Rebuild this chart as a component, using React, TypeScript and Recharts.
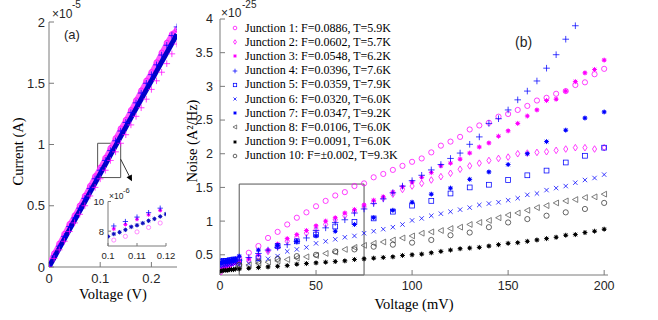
import React from 'react';
import { ScatterChart, Scatter, XAxis, YAxis, ReferenceArea, ReferenceLine, Legend } from 'recharts';

// ---- panel (a): current vs voltage ----
const ivVolts = [0, 0.01, 0.02, 0.03, 0.04, 0.05, 0.06, 0.07, 0.08, 0.09, 0.1, 0.11, 0.12, 0.13, 0.14, 0.15, 0.16, 0.17, 0.18, 0.19, 0.2, 0.21, 0.22, 0.23, 0.24, 0.25];
const ivCore = [0, 0.076, 0.152, 0.229, 0.305, 0.381, 0.457, 0.533, 0.609, 0.685, 0.761, 0.837, 0.913, 0.989, 1.065, 1.141, 1.217, 1.293, 1.369, 1.445, 1.521, 1.597, 1.673, 1.749, 1.825, 1.901];
const ivHigh = [0.03, 0.11, 0.19, 0.27, 0.35, 0.42, 0.5, 0.58, 0.66, 0.74, 0.81, 0.89, 0.97, 1.05, 1.13, 1.2, 1.28, 1.36, 1.44, 1.52, 1.59, 1.67, 1.75, 1.83, 1.9, 1.94];
const ivPlus = [0.01, 0.09, 0.17, 0.25, 0.33, 0.4, 0.48, 0.56, 0.64, 0.72, 0.79, 0.87, 0.95, 1.03, 1.11, 1.18, 1.26, 1.34, 1.42, 1.5, 1.57, 1.65, 1.73, 1.81, 1.89, 1.96];
const ivLow = [0, 0.07, 0.14, 0.21, 0.29, 0.36, 0.43, 0.5, 0.58, 0.65, 0.72, 0.79, 0.87, 0.94, 1.01, 1.08, 1.16, 1.23, 1.3, 1.37, 1.45, 1.52, 1.59, 1.66, 1.74, 1.82];
const ivTicksX = [0, 0.1, 0.2];
const ivTicksY = [0, 0.5, 1, 1.5, 2];

// inset of (a), current in 1e-6 A
const insetVolts = [0.1, 0.102, 0.104, 0.106, 0.108, 0.11, 0.112, 0.114, 0.116, 0.118, 0.12];
const insetCore = [7.64, 7.81, 7.93, 8.09, 8.29, 8.4, 8.54, 8.7, 8.83, 8.99, 9.15];
const insetSparseVolts = [0.102, 0.106, 0.11, 0.114, 0.118];
const insetPlus = [8.35, 8.65, 8.95, 9.25, 9.55];
const insetStar = [8.15, 8.45, 8.8, 9.1, 9.4];
const insetPink = [7.4, 7.65, 7.95, 8.25, 8.55];
const insetTicksX = [0.1, 0.11, 0.12];
const insetTicksY = [8, 10];

// ---- panel (b): noise vs voltage (1e-25 A^2/Hz) ----
const voltsLow = [0, 1, 2, 3, 4, 5, 6, 7, 8];
const volts5 = [10, 15, 20, 25, 30, 35, 40, 45, 50, 55, 60, 65, 70, 75, 80, 85, 90, 95, 100, 105, 110, 115, 120, 125, 130, 135, 140, 145, 150, 155, 160, 165, 170, 175, 180, 185, 190, 195, 200];
const volts10 = [10, 20, 30, 40, 50, 60, 70, 80, 90, 100, 110, 120, 130, 140, 150, 160, 170, 180, 190, 200];

const j1Low = [0.24, 0.28, 0.3, 0.32, 0.33, 0.35, 0.37, 0.39, 0.41];
const j1 = [0.45, 0.53, 0.63, 0.75, 0.84, 0.95, 1.05, 1.13, 1.22, 1.3, 1.38, 1.43, 1.52, 1.56, 1.65, 1.7, 1.76, 1.82, 1.88, 1.93, 2.02, 2.12, 2.18, 2.25, 2.36, 2.42, 2.46, 2.55, 2.59, 2.65, 2.71, 2.79, 2.83, 2.89, 2.93, 3.02, 3.06, 3.18, 3.26];
const j2 = [0.38, 0.42, 0.47, 0.55, 0.62, 0.7, 0.76, 0.82, 0.88, 0.95, 1.02, 1.08, 1.15, 1.21, 1.28, 1.34, 1.4, 1.47, 1.52, 1.56, 1.61, 1.66, 1.71, 1.77, 1.82, 1.86, 1.9, 1.93, 1.95, 2.0, 2.01, 2.02, 2.03, 2.05, 2.07, 2.09, 2.09, 2.07, 2.09];
const j3Low = [0.27, 0.29, 0.31, 0.33, 0.34, 0.35, 0.36, 0.37, 0.38];
const j3 = [0.4, 0.44, 0.5, 0.57, 0.66, 0.74, 0.8, 0.86, 0.93, 1.0, 1.05, 1.12, 1.17, 1.24, 1.31, 1.36, 1.43, 1.51, 1.58, 1.65, 1.72, 1.82, 1.86, 1.92, 2.01, 2.1, 2.16, 2.26, 2.34, 2.45, 2.56, 2.65, 2.79, 2.81, 2.93, 3.07, 3.2, 3.25, 3.39];
const j4Low = [0.36, 0.37, 0.38, 0.38, 0.39, 0.4, 0.4, 0.41, 0.41];
const j4 = [0.42, 0.46, 0.52, 0.57, 0.61, 0.65, 0.7, 0.75, 0.86, 0.9, 0.98, 1.02, 1.12, 1.18, 1.26, 1.33, 1.42, 1.52, 1.6, 1.68, 1.76, 1.84, 1.93, 2.01, 2.14, 2.25, 2.45, 2.52, 2.65, 2.8, 2.93, 3.08, 3.27, 3.47, 3.7, 3.9];
const j5Low = [0.4, 0.4, 0.41, 0.41, 0.41, 0.42, 0.42, 0.43, 0.43];
const j5 = [0.4, 0.45, 0.63, 0.7, 0.8, 0.92, 0.99, 1.04, 1.14, 1.23, 1.3, 1.41, 1.5, 1.54, 1.61, 1.68, 1.75, 1.87, 1.97, 2.09];
const j6Low = [0.33, 0.34, 0.34, 0.35, 0.35, 0.36, 0.36, 0.37, 0.37];
const j6 = [0.35, 0.37, 0.42, 0.44, 0.48, 0.55, 0.58, 0.61, 0.67, 0.7, 0.73, 0.76, 0.78, 0.82, 0.85, 0.88, 0.91, 0.95, 1.01, 1.04, 1.08, 1.11, 1.14, 1.17, 1.2, 1.24, 1.26, 1.28, 1.31, 1.34, 1.39, 1.41, 1.46, 1.49, 1.52, 1.57, 1.61, 1.64, 1.69];
const j7Low = [0.38, 0.39, 0.4, 0.4, 0.41, 0.41, 0.42, 0.43, 0.44];
const j7 = [0.48, 0.57, 0.64, 0.7, 0.78, 0.85, 0.95, 1.05, 1.16, 1.28, 1.4, 1.49, 1.62, 1.73, 1.84, 2.0, 2.18, 2.35, 2.53, 2.62];
const j8 = [0.33, 0.35, 0.37, 0.39, 0.41, 0.43, 0.45, 0.47, 0.49, 0.52, 0.54, 0.58, 0.61, 0.64, 0.67, 0.69, 0.72, 0.75, 0.78, 0.82, 0.84, 0.86, 0.89, 0.91, 0.95, 0.98, 1.01, 1.05, 1.09, 1.12, 1.16, 1.2, 1.23, 1.27, 1.3, 1.32, 1.35, 1.36, 1.4];
const j9Low = [0.26, 0.26, 0.27, 0.27, 0.27, 0.28, 0.28, 0.28, 0.29];
const j9 = [0.29, 0.3, 0.31, 0.32, 0.33, 0.34, 0.36, 0.37, 0.38, 0.39, 0.4, 0.41, 0.43, 0.44, 0.45, 0.46, 0.47, 0.49, 0.5, 0.51, 0.53, 0.55, 0.57, 0.59, 0.6, 0.61, 0.63, 0.65, 0.67, 0.68, 0.7, 0.72, 0.74, 0.76, 0.79, 0.8, 0.83, 0.85, 0.88];
const j10 = [0.35, 0.4, 0.44, 0.48, 0.5, 0.55, 0.58, 0.62, 0.65, 0.68, 0.72, 0.79, 0.83, 0.91, 0.98, 1.03, 1.08, 1.13, 1.18, 1.27];

const noiseTicksX = [0, 50, 100, 150, 200];
const noiseTicksY = [0.5, 1, 1.5, 2, 2.5, 3, 3.5, 4];

const MAG = '#ff00ff';
const BLUE = '#0000ff';

type Kind = 'o' | 'd' | '*' | '+' | 's' | 'x' | '<';

const toPoints = (volts: number[], values: number[]) => values.map((n, i) => ({ v: volts[i], n }));

const junctions: { name: string; color: string; marker: Kind; data: { v: number; n: number }[] }[] = [
  { name: 'Junction 1: F=0.0886, T=5.9K', color: MAG, marker: 'o', data: [...toPoints(voltsLow, j1Low), ...toPoints(volts5, j1)] },
  { name: 'Junction 2: F=0.0602, T=5.7K', color: MAG, marker: 'd', data: toPoints(volts5, j2) },
  { name: 'Junction 3: F=0.0548, T=6.2K', color: MAG, marker: '*', data: [...toPoints(voltsLow, j3Low), ...toPoints(volts5, j3)] },
  { name: 'Junction 4: F=0.0396, T=7.6K', color: BLUE, marker: '+', data: [...toPoints(voltsLow, j4Low), ...toPoints(volts5, j4)] },
  { name: 'Junction 5: F=0.0359, T=7.9K', color: BLUE, marker: 's', data: [...toPoints(voltsLow, j5Low), ...toPoints(volts10, j5)] },
  { name: 'Junction 6: F=0.0320, T=6.0K', color: BLUE, marker: 'x', data: [...toPoints(voltsLow, j6Low), ...toPoints(volts5, j6)] },
  { name: 'Junction 7: F=0.0347, T=9.2K', color: BLUE, marker: '*', data: [...toPoints(voltsLow, j7Low), ...toPoints(volts10, j7)] },
  { name: 'Junction 8: F=0.0106, T=6.0K', color: '#555555', marker: '<', data: toPoints(volts5, j8) },
  { name: 'Junction 9: F=0.0091, T=6.0K', color: '#000000', marker: '*', data: [...toPoints(voltsLow, j9Low), ...toPoints(volts5, j9)] },
  { name: 'Junction 10: F=\u00b10.002, T=9.3K', color: '#333333', marker: 'o', data: toPoints(volts10, j10) },
];

const Marker = ({ kind, cx, cy, color, size = 1 }: { kind: Kind; cx: number; cy: number; color: string; size?: number }) => {
  const s = size;
  const sw = 0.75;
  switch (kind) {
    case 'o':
      return <circle cx={cx} cy={cy} r={2.6 * s} fill="none" stroke={color} strokeWidth={sw} />;
    case 'd':
      return <path d={`M${cx},${cy - 3.3 * s}L${cx + 2.1 * s},${cy}L${cx},${cy + 3.3 * s}L${cx - 2.1 * s},${cy}Z`} fill="none" stroke={color} strokeWidth={sw} />;
    case '*':
      return (
        <g stroke={color} strokeWidth={0.9}>
          <line x1={cx - 2.5 * s} y1={cy} x2={cx + 2.5 * s} y2={cy} />
          <line x1={cx} y1={cy - 2.5 * s} x2={cx} y2={cy + 2.5 * s} />
          <line x1={cx - 1.8 * s} y1={cy - 1.8 * s} x2={cx + 1.8 * s} y2={cy + 1.8 * s} />
          <line x1={cx - 1.8 * s} y1={cy + 1.8 * s} x2={cx + 1.8 * s} y2={cy - 1.8 * s} />
          <circle cx={cx} cy={cy} r={1.3 * s} fill={color} />
        </g>
      );
    case '+':
      return (
        <g stroke={color} strokeWidth={sw}>
          <line x1={cx - 3.3 * s} y1={cy} x2={cx + 3.3 * s} y2={cy} />
          <line x1={cx} y1={cy - 3.3 * s} x2={cx} y2={cy + 3.3 * s} />
        </g>
      );
    case 's':
      return <rect x={cx - 2.4 * s} y={cy - 2.4 * s} width={4.8 * s} height={4.8 * s} fill="none" stroke={color} strokeWidth={sw} />;
    case 'x':
      return (
        <g stroke={color} strokeWidth={sw}>
          <line x1={cx - 2.2 * s} y1={cy - 2.2 * s} x2={cx + 2.2 * s} y2={cy + 2.2 * s} />
          <line x1={cx - 2.2 * s} y1={cy + 2.2 * s} x2={cx + 2.2 * s} y2={cy - 2.2 * s} />
        </g>
      );
    case '<':
      return <path d={`M${cx - 2.9 * s},${cy}L${cx + 2.4 * s},${cy - 2.9 * s}L${cx + 2.4 * s},${cy + 2.9 * s}Z`} fill="none" stroke={color} strokeWidth={sw} />;
  }
  return <g />;
};

const shapeOf = (kind: Kind, color: string, size = 1) => (p: any) => <Marker kind={kind} cx={p.cx} cy={p.cy} color={color} size={size} />;

const AXIS = '#7a7a7a';
const SANS = 'Liberation Sans, Arial, sans-serif';
const SERIF = 'Liberation Serif, Times New Roman, serif';

const NoiseLegend = () => (
  <div style={{ fontFamily: SERIF, fontSize: 12, color: '#000' }}>
    {junctions.map(j => (
      <div key={j.name} style={{ height: 14.2, display: 'flex', alignItems: 'center', whiteSpace: 'nowrap' }}>
        <svg width={10} height={10} style={{ display: 'block' }}>
          <Marker kind={j.marker} cx={5} cy={5} color={j.color} size={0.7} />
        </svg>
        <span style={{ marginLeft: 5 }}>{j.name}</span>
      </div>
    ))}
  </div>
);

const ZoomArrow = (p: any) => {
  const { x1, y1, x2, y2 } = p;
  const a = Math.atan2(y2 - y1, x2 - x1);
  const h = 6;
  const w = 3;
  const bx = x2 - h * Math.cos(a);
  const by = y2 - h * Math.sin(a);
  const pts = `${x2},${y2} ${bx - w * Math.sin(a)},${by + w * Math.cos(a)} ${bx + w * Math.sin(a)},${by - w * Math.cos(a)}`;
  return (
    <g>
      <line x1={x1} y1={y1} x2={bx} y2={by} stroke="#000" strokeWidth={0.8} />
      <polygon points={pts} fill="#000" />
    </g>
  );
};

const abs = (left: number, top: number, size: number, extra: React.CSSProperties = {}): React.CSSProperties => ({
  position: 'absolute', left, top, fontSize: size, fontFamily: SANS, color: '#262626', lineHeight: 1, whiteSpace: 'nowrap', ...extra,
});

const App = () => {
  const tickA = { fontSize: 13, fill: '#262626', fontFamily: SANS };
  const tickB = { fontSize: 12.5, fill: '#262626', fontFamily: SANS };
  const tickI = { fontSize: 9.5, fill: '#262626', fontFamily: SANS };
  const axisLabel = { fontSize: 14.5, fill: '#000', fontFamily: SERIF };

  return (
    <div style={{ position: 'fixed', left: 0, top: 0, width: 658, height: 320, background: '#fff', overflow: 'hidden' }}>
      {/* (a) current vs voltage */}
      <div style={{ position: 'absolute', left: 0, top: 0 }}>
        <ScatterChart width={200} height={320} margin={{ top: 22, right: 23, bottom: 0, left: 0 }}>
          <XAxis type="number" dataKey="v" domain={[0, 0.25]} ticks={ivTicksX} allowDataOverflow height={53}
            tick={tickA} tickSize={-5} tickMargin={11.5} stroke={AXIS}
            label={{ value: 'Voltage (V)', position: 'center', dy: 0, ...axisLabel }} />
          <XAxis xAxisId="top" orientation="top" type="number" domain={[0, 0.25]} ticks={ivTicksX} allowDataOverflow height={0}
            tick={false} tickSize={-5} stroke={AXIS} />
          <YAxis type="number" dataKey="n" domain={[0, 2]} ticks={ivTicksY} allowDataOverflow width={49}
            tick={tickA} tickSize={-5} tickMargin={9} stroke={AXIS}
            label={{ value: 'Current (A)', angle: -90, position: 'center', dx: -7, dy: 7, ...axisLabel }} />
          <YAxis yAxisId="right" orientation="right" type="number" domain={[0, 2]} ticks={ivTicksY} allowDataOverflow width={0}
            tick={false} tickSize={-5} stroke={AXIS} />
          <Scatter data={toPoints(ivVolts, ivHigh)} line={{ stroke: '#ff55ff', strokeWidth: 4.5 }} shape={shapeOf('o', MAG)} isAnimationActive={false} />
          <Scatter data={toPoints(ivVolts, ivCore)} line={{ stroke: '#0000c8', strokeWidth: 5 }} shape={() => <g />} isAnimationActive={false} />
          <Scatter data={toPoints(ivVolts, ivPlus)} shape={shapeOf('+', BLUE)} isAnimationActive={false} />
          <Scatter data={toPoints(ivVolts, ivLow)} shape={shapeOf('+', MAG)} isAnimationActive={false} />
          <ReferenceArea x1={0.095} x2={0.14} y1={0.73} y2={1.01} fill="none" stroke="#555" strokeWidth={1} />
          <ReferenceLine segment={[{ x: 0.14, y: 0.88 }, { x: 0.162, y: 0.7 }]} shape={ZoomArrow} />
        </ScatterChart>
      </div>
      <span style={abs(52, 7.5, 12)}>{'\u00d710'}</span>
      <span style={abs(72, 0, 10)}>-5</span>
      <span style={abs(64, 28, 13)}>(a)</span>

      {/* inset of (a) */}
      <div style={{ position: 'absolute', left: 76, top: 186 }}>
        <ScatterChart width={100} height={80} margin={{ top: 15.5, right: 10, bottom: 0, left: 0 }}>
          <XAxis type="number" dataKey="v" domain={[0.1, 0.12]} ticks={insetTicksX} allowDataOverflow height={20}
            tick={tickI} tickSize={-3} tickMargin={9.5} stroke={AXIS} />
          <XAxis xAxisId="top" orientation="top" type="number" domain={[0.1, 0.12]} ticks={insetTicksX} allowDataOverflow height={0}
            tick={false} tickSize={-3} stroke={AXIS} />
          <YAxis type="number" dataKey="n" domain={[7, 10]} ticks={insetTicksY} allowDataOverflow width={32}
            tick={tickI} tickSize={-3} tickMargin={7} stroke={AXIS} />
          <YAxis yAxisId="right" orientation="right" type="number" domain={[7, 10]} ticks={insetTicksY} allowDataOverflow width={0}
            tick={false} tickSize={-3} stroke={AXIS} />
          <Scatter data={toPoints(insetSparseVolts, insetPink)} shape={shapeOf('o', '#ff66ff', 0.8)} isAnimationActive={false} />
          <Scatter data={toPoints(insetSparseVolts, insetStar)} shape={shapeOf('*', MAG, 0.8)} isAnimationActive={false} />
          <Scatter data={toPoints(insetSparseVolts, insetPlus)} shape={shapeOf('+', BLUE, 0.8)} isAnimationActive={false} />
          <Scatter data={toPoints(insetVolts, insetCore)} shape={shapeOf('*', '#1010c0', 0.9)} isAnimationActive={false} />
        </ScatterChart>
      </div>
      <span style={abs(109, 192, 8.5)}>{'\u00d710'}</span>
      <span style={abs(123, 187, 7.5)}>-6</span>

      {/* (b) noise vs voltage */}
      <div style={{ position: 'absolute', left: 160, top: 0 }}>
        <ScatterChart width={498} height={320} margin={{ top: 19, right: 50, bottom: 0, left: 0 }}>
          <XAxis type="number" dataKey="v" domain={[0, 202]} ticks={noiseTicksX} allowDataOverflow height={45}
            tick={tickB} tickSize={-5} tickMargin={11} stroke={AXIS}
            label={{ value: 'Voltage (mV)', position: 'center', dy: 6, ...axisLabel }} />
          <XAxis xAxisId="top" orientation="top" type="number" domain={[0, 202]} ticks={noiseTicksX} allowDataOverflow height={0}
            tick={false} tickSize={-5} stroke={AXIS} />
          <YAxis type="number" dataKey="n" domain={[0.2, 4]} ticks={noiseTicksY} allowDataOverflow width={60}
            tick={tickB} tickSize={-5} tickMargin={12} stroke={AXIS}
            label={{ value: 'Noise (A\u00b2/Hz)', angle: -90, position: 'center', dx: 2, dy: -6, ...axisLabel }} />
          <YAxis yAxisId="right" orientation="right" type="number" domain={[0.2, 4]} ticks={noiseTicksY} allowDataOverflow width={0}
            tick={false} tickSize={-5} stroke={AXIS} />
          {junctions.map(j => (
            <Scatter key={j.name} name={j.name} data={j.data} shape={shapeOf(j.marker, j.color)} isAnimationActive={false} />
          ))}
          <ReferenceArea x1={10} x2={75} y1={0.2} y2={1.55} fill="none" stroke="#555" strokeWidth={1} />
          <Legend layout="vertical" align="center" verticalAlign="middle" content={NoiseLegend}
            wrapperStyle={{ left: 70, top: 21, width: 'auto', height: 'auto' }} />
        </ScatterChart>
      </div>
      <span style={abs(221, 7, 12)}>{'\u00d710'}</span>
      <span style={abs(242, 0, 10)}>-25</span>
      <span style={abs(515, 35, 14)}>(b)</span>
    </div>
  );
};

export default App;
